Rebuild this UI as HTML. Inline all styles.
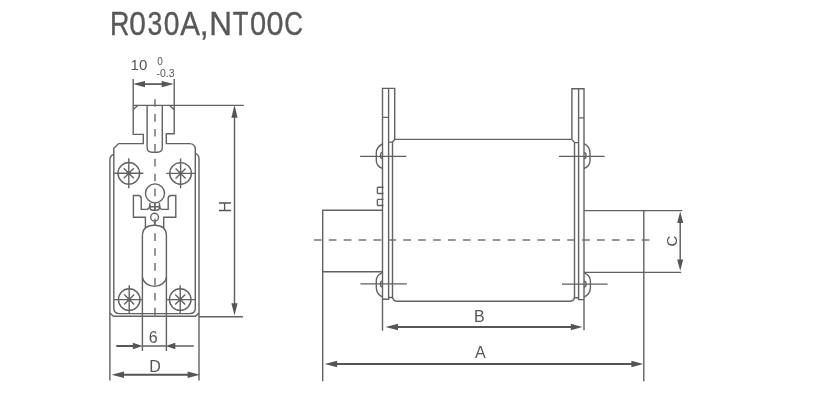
<!DOCTYPE html>
<html><head><meta charset="utf-8">
<style>
html,body{margin:0;padding:0;background:#fff;}
body{width:834px;height:406px;overflow:hidden;position:relative;}
svg{position:absolute;left:0;top:0;filter:grayscale(1);}
text{font-family:"Liberation Sans",sans-serif;}
</style></head>
<body>
<svg width="834" height="406" viewBox="0 0 834 406">
<!-- title -->
<g font-size="32" fill="#585858" stroke="#585858" stroke-width="0.35">
<text transform="translate(109.98,34.8) scale(0.839,1.02)">R</text>
<text transform="translate(129.22,34.8) scale(0.936,1.02)">0</text>
<text transform="translate(147.59,34.8) scale(0.831,1.02)">3</text>
<text transform="translate(163.68,34.8) scale(0.883,1.02)">0</text>
<text transform="translate(180.30,34.8) scale(0.922,1.02)">A</text>
<text transform="translate(199.80,34.8) scale(1.000,1.02)">,</text>
<text transform="translate(209.15,34.8) scale(0.983,1.02)">N</text>
<text transform="translate(232.70,34.8) scale(0.800,1.02)">T</text>
<text transform="translate(249.95,34.8) scale(0.909,1.02)">0</text>
<text transform="translate(266.51,34.8) scale(0.956,1.02)">0</text>
<text transform="translate(284.31,34.8) scale(0.811,1.02)">C</text>
</g>

<g fill="none" stroke="#626262" stroke-width="1.4">
<!-- FRONT VIEW -->
<!-- tab + inner body -->
<path d="M133.2,79 V134.4 H143.3 V143.6 H118.7 L113.8,148.3 V308 Q113.8,313.6 119.4,313.6 H189.7 Q195.3,313.6 195.3,308 V149.5 Q195.3,143.6 189.4,143.6 H166.3 V133.7 H174.2 V79"/>
<path d="M133.2,105.4 H243.8 M137.8,105.4 L133.2,109.6 M169.6,105.4 L174.2,109.8"/>
<!-- outer body -->
<path d="M113.8,154.3 Q109.9,155.5 109.9,159.5 V380.5"/>
<path d="M109.9,313 L113.5,316.3 H195.5 L199,313"/>
<path d="M195.3,153.3 Q199,154.5 199,158.8 V380.5"/>
<!-- top slot -->
<path d="M147.1,105.4 V147.2 Q147.1,152.2 152.1,152.2 H157.3 Q162.3,152.2 162.3,147.2 V105.4"/>
<!-- screws -->
<circle cx="128.8" cy="173.3" r="10.8"/>
<circle cx="180.6" cy="173.4" r="10.8"/>
<circle cx="129.2" cy="299.6" r="10.8"/>
<circle cx="180.2" cy="299.6" r="10.8"/>
<path d="M114.3,173.3 H143.3 M128.8,158.3 V188.3 M123.8,168.3 L133.8,178.3 M133.8,168.3 L123.8,178.3"/>
<path d="M166.3,173.4 H195 M180.6,158.6 V188.3 M175.6,168.4 L185.6,178.4 M185.6,168.4 L175.6,178.4"/>
<path d="M113.8,299.6 H142.4 M129.2,285.3 V313.6 M124.2,294.6 L134.2,304.6 M134.2,294.6 L124.2,304.6"/>
<path d="M166.3,299.6 H195.3 M180.2,285.3 V313.6 M175.2,294.6 L185.2,304.6 M185.2,294.6 L175.2,304.6"/>
<!-- fuse link -->
<circle cx="155" cy="193.4" r="9.5"/>
<circle cx="154.6" cy="217.2" r="3.9"/>
<path d="M154.6,221.1 V225.2"/>
<path d="M146.7,209.4 H141.2 V198.5 Q141.2,195.5 138.2,195.5 H133.4 V217.2 H145.4 V228.6"/>
<path d="M162,209.4 H168.2 V198.5 Q168.2,195.5 171.2,195.5 H175.8 V217.2 H163.7 V228.6"/>
<path d="M146.7,209.4 Q149,209.4 150,205 M162,209.4 Q160,209.4 159.4,205"/>
<path d="M150,203 V207.5 Q150,210.2 153,210.2 H156.6 Q159.5,210.2 159.5,207.5 V203 M150,206.7 H159.5 M154.8,202.8 V210.2"/>
<!-- lower slot -->
<path d="M142.4,351 V236 Q142.4,225.2 154.5,225.2 Q166.4,225.2 166.4,236 V351"/>
<path d="M142.4,277 A12.1,10.3 0 0 0 166.5,277"/>
</g>
<!-- centre dashes front -->
<path d="M155,99.2 V316" fill="none" stroke="#6a6a6a" stroke-width="1.4" stroke-dasharray="7.6 7.3"/>

<g fill="none" stroke="#626262" stroke-width="1.4">
<!-- SIDE VIEW -->
<!-- left blade -->
<path d="M382.5,330.7 V88.4 H394.7 V139.4 L392.5,142.1 V297.5 H388.6 M388.6,88.4 V299.2 H382.5 M382.5,117.4 H388.6 M388.6,142.1 H392.5"/>
<!-- right blade -->
<path d="M584,330.2 V88.7 H571.9 V139.4 L574.5,142.4 V297.7 H578.6 M578.6,88.7 V299.6 H584 M578.6,117.9 H584 M574.5,142.6 H578.6"/>
<!-- body -->
<path d="M394.7,139.4 H571.9"/>
<path d="M392.5,297.5 Q393.5,301.2 397,301.2 H570 Q573.5,301.2 574.5,297.7"/>
<!-- bumps -->
<path d="M382.5,144 Q376.3,147 376.3,153 V160.2 Q376.3,166.2 382.5,168.5 M382.5,152.4 Q380.6,152.6 380.6,154.5 V156.4 Q380.6,158.3 382.5,158.3"/>
<path d="M382.5,272.3 Q376.3,275 376.3,280.5 V287.5 Q376.3,294 382.5,297 M382.5,281 Q380.6,281.2 380.6,283.1 V285 Q380.6,286.9 382.5,286.9"/>
<path d="M584,143.6 Q590,146.5 590,153.2 V160.6 Q590,166.5 584,168.5 M584,152.6 Q586,152.8 586,154.7 V156.6 Q586,158.5 584,158.5"/>
<path d="M584,272.6 Q590.4,275.5 590.4,281 V287.5 Q590.4,294 584,297 M584,281.1 Q586,281.3 586,283.2 V285.1 Q586,287 584,287"/>
<!-- caps -->
<path d="M382.5,210.3 H322.7 V381.3 M322.7,271.7 H382.5 M377.4,187.2 H383.5 M377.4,193.5 H383.5 M377.4,187.2 V193.5 M377.4,199.4 H383.5 M377.4,205.5 H383.5 M377.4,199.4 V205.5"/>
<path d="M584,210.6 H682.2 M643.8,210.6 V381.3 M584,272.4 H681.2"/>
</g>
<g fill="none" stroke="#606060" stroke-width="1.3">
<path d="M360.1,156.4 H406.3 M558.9,156.3 H604.7 M360.5,283.8 H406.8 M562,284.1 H607.6"/>
</g>
<path d="M313.9,240 H650" fill="none" stroke="#747474" stroke-width="1.5" stroke-dasharray="7.7 7.2"/>

<!-- dimension lines -->
<g fill="none" stroke="#5a5a5a" stroke-width="1.4"><path d="M234.5,116 V304 M680.2,222 V260"/><path d="M140,84.1 H167" stroke-width="1.7" stroke="#555"/></g>
<g fill="none" stroke="#555" stroke-width="2">


<path d="M116.3,346 H135"/>
<path d="M122,374.7 H190"/>
<path d="M396,327 H572"/>
<path d="M335,364 H632"/>

</g>
<g fill="none" stroke="#626262" stroke-width="1.4">
<path d="M199,316.8 H242.9 M141.9,346 H166.3"/><path d="M174,346 H193.8" stroke="#707070" stroke-width="1.7"/>
</g>
<g fill="#555">
<polygon points="133,84.1 145,80.9 145,87.3"/>
<polygon points="173.7,84.1 161.7,80.9 161.7,87.3"/>
<polygon points="234.5,105 231.4,117.7 237.6,117.7"/>
<polygon points="234.5,315.4 231.4,303.3 237.6,303.3"/>
<polygon points="142.6,346 132.9,342.8 132.9,349.2"/>
<polygon points="165.6,346 175.3,342.8 175.3,349.2"/>
<polygon points="111.5,374.7 124,371.5 124,377.9"/>
<polygon points="200,374.7 187.6,371.5 187.6,377.9"/>
<polygon points="385.5,327 398,323.8 398,330.2"/>
<polygon points="582.5,327 570.8,323.8 570.8,330.2"/>
<polygon points="324.6,364 337.1,360.8 337.1,367.2"/>
<polygon points="643.3,364 631.4,360.8 631.4,367.2"/>
<polygon points="680.2,211.4 677.2,223 683.2,223"/>
<polygon points="680.2,270.8 677.2,259.6 683.2,259.6"/>
</g>
<g fill="#555" font-size="16">
<text x="130.6" y="69.7" font-size="15">10</text>
<text x="157.3" y="64.8" font-size="10">0</text>
<text x="156.5" y="76.6" font-size="10.5" textLength="18" lengthAdjust="spacingAndGlyphs">-0.3</text>
<text x="148.8" y="342.8">6</text>
<text x="149.3" y="371.7">D</text>
<text x="474" y="321.5">B</text>
<text x="475" y="357.5">A</text>
<text transform="translate(230.7,206.7) rotate(-90)" text-anchor="middle">H</text>
<text transform="translate(677.3,241) rotate(-90)" text-anchor="middle" font-size="15">C</text>
</g>
</svg>
</body></html>
